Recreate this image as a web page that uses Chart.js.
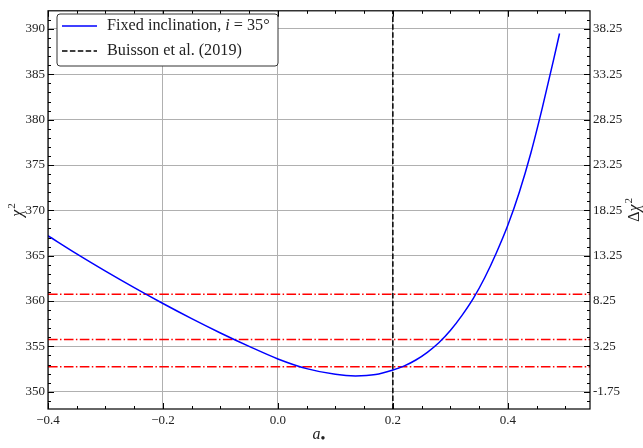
<!DOCTYPE html>
<html><head><meta charset="utf-8">
<script src="https://cdn.jsdelivr.net/npm/chart.js@4.4.0/dist/chart.umd.min.js"></script>
<style>html,body{margin:0;padding:0;background:#fff}#wrap{width:643px;height:448px}</style>
</head><body><div id="wrap"><canvas id="c" width="643" height="448"></canvas></div>
<script>
// ---- data ----
const spinA = [-0.40, -0.35, -0.30, -0.25, -0.20, -0.15, -0.10, -0.05, 0.00, 0.05, 0.10, 0.135, 0.17, 0.20, 0.22, 0.24, 0.26, 0.28, 0.30, 0.32, 0.34, 0.36, 0.38, 0.40, 0.42, 0.44, 0.46, 0.48, 0.49];
const chi2Vals = [367.2, 365.2, 363.3, 361.48, 359.73, 358.06, 356.48, 355.0, 353.62, 352.55, 351.92, 351.75, 351.9, 352.4, 352.85, 353.5, 354.35, 355.4, 356.75, 358.4, 360.3, 362.6, 365.3, 368.35, 372.0, 376.3, 381.3, 386.7, 389.5];
const buissonA = 0.2;
const chi2Min = 351.75;
const deltaLevels = [1, 4, 9];
const xTicks = [-0.4, -0.2, 0.0, 0.2, 0.4];
const yTicks = [350, 355, 360, 365, 370, 375, 380, 385, 390];
const deltaTicks = [-1.75, 3.25, 8.25, 13.25, 18.25, 23.25, 28.25, 33.25, 38.25];
const curveLabel = 'Fixed inclination, i = 35°';
const buissonLabel = 'Buisson et al. (2019)';
const X_MIN = -0.4, X_MAX = 0.543, Y_MIN = 348.1, Y_MAX = 392.0;

const FONT = '"Liberation Serif", "Times New Roman", serif';

const datasets = [
  { label: curveLabel, data: spinA.map((a, i) => ({ x: a, y: chi2Vals[i] })),
    borderColor: '#0000ff', borderWidth: 1.5, pointRadius: 0, cubicInterpolationMode: 'monotone', order: 1 },
  { label: buissonLabel, data: [{ x: buissonA, y: Y_MIN }, { x: buissonA, y: Y_MAX }],
    borderColor: '#000', borderWidth: 1.5, borderDash: [5.5, 2.4], pointRadius: 0, order: 2 }
];
deltaLevels.forEach(d => datasets.push({
  label: 'dchi2=' + d, data: [{ x: X_MIN, y: chi2Min + d }, { x: X_MAX, y: chi2Min + d }],
  borderColor: '#ff0000', borderWidth: 1.5, borderDash: [9.6, 2.4, 1.5, 2.4], pointRadius: 0, order: 3
}));

const deco = {
  id: 'deco',
  afterDatasetsDraw(chart) {
    const { ctx, chartArea: a, scales: { x, y, y2 } } = chart;
    ctx.save();
    ctx.strokeStyle = '#000'; ctx.lineWidth = 1;
    ctx.beginPath();
    const tick = (x1, y1, x2, y2_) => { ctx.moveTo(x1, y1); ctx.lineTo(x2, y2_); };
    for (let k = -8; k <= 10; k++) {
      const v = k * 0.05;
      const L = k % 4 === 0 ? 6 : 3;
      const px = Math.round(x.getPixelForValue(v)) + 0.5;
      if (px < a.left || px > a.right) continue;
      tick(px, a.bottom, px, a.bottom - L);
      tick(px, a.top, px, a.top + L);
    }
    for (let v = 349; v <= 391; v++) {
      const L = v % 5 === 0 ? 6 : 3;
      const py = Math.round(y.getPixelForValue(v)) + 0.5;
      tick(a.left, py, a.left + L, py);
    }
    for (let k = -1; k <= 41; k++) {
      const v = deltaTicks[0] + k;
      const L = k % 5 === 0 ? 6 : 3;
      const py = Math.round(y2.getPixelForValue(v)) + 0.5;
      if (py < a.top || py > a.bottom) continue;
      tick(a.right, py, a.right - L, py);
    }
    ctx.stroke();
    ctx.lineWidth = 1.2;
    ctx.strokeRect(a.left, a.top, a.right - a.left, a.bottom - a.top);
    ctx.restore();
  },
  afterDraw(chart) {
    const { ctx, chartArea: a } = chart;
    ctx.save();
    // legend box
    const bx = 57, by = 14, bw = 221, bh = 52, r = 3;
    ctx.fillStyle = '#fff'; ctx.strokeStyle = '#333'; ctx.lineWidth = 1;
    ctx.beginPath();
    ctx.moveTo(bx + r, by); ctx.lineTo(bx + bw - r, by); ctx.quadraticCurveTo(bx + bw, by, bx + bw, by + r);
    ctx.lineTo(bx + bw, by + bh - r); ctx.quadraticCurveTo(bx + bw, by + bh, bx + bw - r, by + bh);
    ctx.lineTo(bx + r, by + bh); ctx.quadraticCurveTo(bx, by + bh, bx, by + bh - r);
    ctx.lineTo(bx, by + r); ctx.quadraticCurveTo(bx, by, bx + r, by);
    ctx.closePath(); ctx.fill(); ctx.stroke();
    ctx.lineWidth = 1.5;
    ctx.strokeStyle = '#0000ff'; ctx.setLineDash([]);
    ctx.beginPath(); ctx.moveTo(62, 26); ctx.lineTo(97, 26); ctx.stroke();
    ctx.strokeStyle = '#000'; ctx.setLineDash([5.5, 2.4]);
    ctx.beginPath(); ctx.moveTo(62, 51); ctx.lineTo(97, 51); ctx.stroke();
    ctx.setLineDash([]);
    ctx.fillStyle = '#222'; ctx.textBaseline = 'middle'; ctx.textAlign = 'left';
    let fs = 16;
    ctx.font = fs + 'px ' + FONT;
    fs = fs * 135 / ctx.measureText(buissonLabel).width;
    const reg = fs.toFixed(2) + 'px ' + FONT, ital = 'italic ' + fs.toFixed(2) + 'px ' + FONT;
    const parts = curveLabel.split('i = ');
    ctx.font = reg;
    let tx = 107;
    ctx.fillText(parts[0], tx, 26); tx += ctx.measureText(parts[0]).width;
    ctx.font = ital; ctx.fillText('i', tx, 26); tx += ctx.measureText('i').width;
    ctx.font = reg; ctx.fillText(' = ' + parts[1], tx, 26);
    ctx.fillText(buissonLabel, 107, 51);

    // axis titles with superscripts, reading bottom-to-top
    const big = 'italic 16px ' + FONT, bigUp = '16px ' + FONT, sup = '11px ' + FONT;
    const cy = (a.top + a.bottom) / 2;
    ctx.textBaseline = 'alphabetic'; ctx.textAlign = 'left';
    ctx.save(); ctx.translate(22, cy); ctx.rotate(-Math.PI / 2);
    ctx.font = big; const wc = ctx.measureText('χ').width;
    ctx.font = sup; const w2 = ctx.measureText('2').width;
    let sx = -(wc + w2 + 1) / 2;
    ctx.font = big; ctx.fillText('χ', sx, 0);
    ctx.font = sup; ctx.fillText('2', sx + wc + 1, -7);
    ctx.restore();
    ctx.save(); ctx.translate(639, cy); ctx.rotate(-Math.PI / 2);
    ctx.font = bigUp; const wd = ctx.measureText('Δ').width;
    sx = -(wd + wc + w2 + 1) / 2;
    ctx.fillText('Δ', sx, 0);
    ctx.font = big; ctx.fillText('χ', sx + wd, 0);
    ctx.font = sup; ctx.fillText('2', sx + wd + wc + 1, -7);
    ctx.restore();
    ctx.font = big; ctx.textAlign = 'left';
    ctx.fillText('a', 312.5, 439);
    ctx.font = '14px ' + FONT; ctx.textBaseline = 'middle';
    ctx.fillText('•', 320.5, 439.5);
    ctx.restore();
  }
};

const tickFont = { family: FONT, size: 13 };
new Chart(document.getElementById('c'), {
  type: 'line',
  data: { datasets },
  options: {
    responsive: false, animation: false, devicePixelRatio: 1,
    layout: { padding: { top: 6, left: 0, right: 0, bottom: 0 } },
    plugins: { legend: { display: false }, tooltip: { enabled: false } },
    scales: {
      x: {
        type: 'linear', min: X_MIN, max: X_MAX,
        afterBuildTicks: s => { s.ticks = xTicks.map(v => ({ value: v })); },
        afterFit: s => { s.height = 39; },
        ticks: { font: tickFont, color: '#222', padding: 4, maxRotation: 0,
          callback: v => (v < -1e-9 ? '\u2212' : '') + Math.abs(v).toFixed(1) },
        grid: { color: '#b0b0b0', lineWidth: 1, drawTicks: false },
        border: { display: false }
      },
      y: {
        type: 'linear', position: 'left', min: Y_MIN, max: Y_MAX,
        afterBuildTicks: s => { s.ticks = yTicks.map(v => ({ value: v })); },
        afterFit: s => { s.width = 48; },
        ticks: { font: tickFont, color: '#222', padding: 3, callback: v => String(v) },
        grid: { color: '#b0b0b0', lineWidth: 1, drawTicks: false },
        border: { display: false }
      },
      y2: {
        type: 'linear', position: 'right', min: Y_MIN - chi2Min, max: Y_MAX - chi2Min,
        afterBuildTicks: s => { s.ticks = deltaTicks.map(v => ({ value: v })); },
        afterFit: s => { s.width = 53; },
        ticks: { font: tickFont, color: '#222', padding: 3, callback: v => v.toFixed(2) },
        grid: { display: false, drawTicks: false },
        border: { display: false }
      }
    }
  },
  plugins: [deco]
});
</script></body></html>
